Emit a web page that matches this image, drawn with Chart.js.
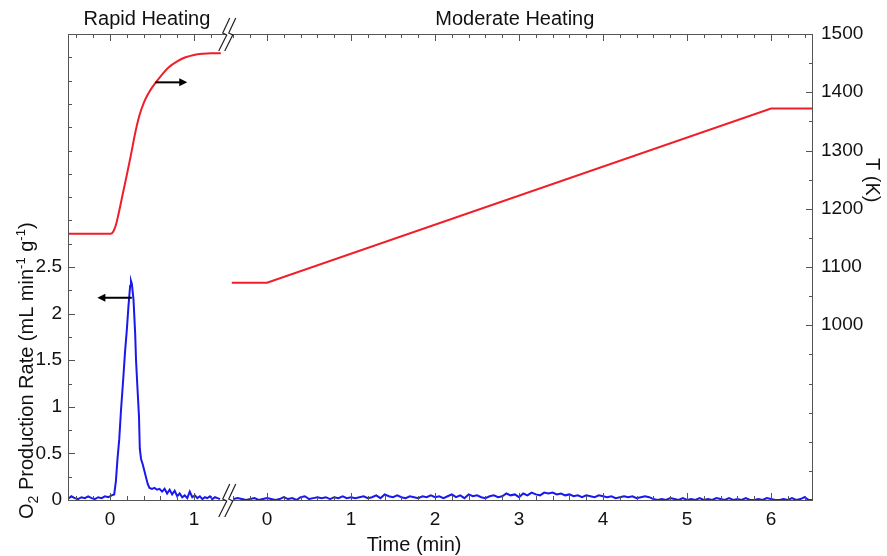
<!DOCTYPE html>
<html lang="en">
<head>
<meta charset="UTF-8">
<title>O2 Production and Temperature</title>
<script src="https://cdn.jsdelivr.net/npm/chart.js"></script>
<style>
  body { margin: 0; background: #fff; }
  canvas { display: block; }
</style>
</head>
<body>
<canvas id="chart" width="887" height="556"></canvas>
<script>
// --- Rapid heating panel (time in min) ---
const rapidO2Time = [-0.50, -0.46, -0.42, -0.38, -0.34, -0.30, -0.26, -0.22, -0.18, -0.14, -0.10, -0.06, -0.02, 0.02, 0.05,
  0.07, 0.09, 0.11, 0.13, 0.16, 0.18, 0.20, 0.22, 0.24, 0.25, 0.26, 0.28, 0.30, 0.31, 0.33, 0.345, 0.355, 0.37, 0.39, 0.41, 0.43, 0.45, 0.47, 0.50,
  0.53, 0.56, 0.59, 0.62, 0.65, 0.68, 0.71, 0.74, 0.77, 0.80, 0.83, 0.86, 0.89, 0.92, 0.95, 0.98, 1.01, 1.04, 1.07, 1.10, 1.13, 1.16, 1.19, 1.22, 1.25, 1.28, 1.31];
const rapidO2 = [0.01, 0.04, 0.02, 0.01, 0.03, 0.02, 0.04, 0.02, 0.01, 0.03, 0.02, 0.04, 0.03, 0.05, 0.06,
  0.20, 0.45, 0.65, 0.95, 1.33, 1.60, 1.82, 2.08, 2.30, 2.35, 2.32, 2.15, 1.78, 1.50, 1.15, 0.90, 0.55, 0.44, 0.38, 0.31, 0.24, 0.17, 0.13, 0.12,
  0.13, 0.11, 0.12, 0.09, 0.12, 0.07, 0.11, 0.06, 0.10, 0.04, 0.07, 0.03, 0.05, 0.02, 0.09, 0.03, 0.05, 0.02, 0.04, 0.01, 0.03, 0.02, 0.04, 0.01, 0.03, 0.02, 0.01];
const rapidTempTime = [-0.50, 0.01, 0.04, 0.07, 0.10, 0.15, 0.20, 0.25, 0.30, 0.35, 0.40, 0.45, 0.50, 0.60, 0.70, 0.80, 0.90, 1.00, 1.10, 1.20, 1.32];
const rapidTemp = [1157, 1157, 1161, 1172, 1190, 1224, 1258, 1293, 1330, 1360, 1381, 1396, 1408, 1427, 1443, 1453, 1460, 1464, 1466, 1467, 1467];

// --- Moderate heating panel ---
const modO2Time = [-0.40, -0.35, -0.30, -0.25, -0.20, -0.15, -0.10, -0.05, 0.00, 0.05,
  0.10, 0.15, 0.20, 0.25, 0.30, 0.35, 0.40, 0.45, 0.50, 0.55,
  0.60, 0.65, 0.70, 0.75, 0.80, 0.85, 0.90, 0.95, 1.00, 1.05,
  1.10, 1.15, 1.20, 1.25, 1.30, 1.35, 1.40, 1.45, 1.50, 1.55,
  1.60, 1.65, 1.70, 1.75, 1.80, 1.85, 1.90, 1.95, 2.00, 2.05,
  2.10, 2.15, 2.20, 2.25, 2.30, 2.35, 2.40, 2.45, 2.50, 2.55,
  2.60, 2.65, 2.70, 2.75, 2.80, 2.85, 2.90, 2.95, 3.00, 3.05,
  3.10, 3.15, 3.20, 3.25, 3.30, 3.35, 3.40, 3.45, 3.50, 3.55,
  3.60, 3.65, 3.70, 3.75, 3.80, 3.85, 3.90, 3.95, 4.00, 4.05,
  4.10, 4.15, 4.20, 4.25, 4.30, 4.35, 4.40, 4.45, 4.50, 4.55,
  4.60, 4.65, 4.70, 4.75, 4.80, 4.85, 4.90, 4.95, 5.00, 5.05,
  5.10, 5.15, 5.20, 5.25, 5.30, 5.35, 5.40, 5.45, 5.50, 5.55,
  5.60, 5.65, 5.70, 5.75, 5.80, 5.85, 5.90, 5.95, 6.00, 6.05,
  6.10, 6.15, 6.20, 6.25, 6.30, 6.35, 6.40, 6.45, 6.50];
const modO2 = [0.01, 0.02, 0.01, 0.00, 0.01, 0.02, 0.00, 0.01, 0.02, 0.01,
  0.00, 0.01, 0.03, 0.01, 0.02, 0.00, 0.03, 0.04, 0.01, 0.02,
  0.03, 0.02, 0.03, 0.01, 0.03, 0.02, 0.04, 0.02, 0.03, 0.02,
  0.03, 0.04, 0.02, 0.03, 0.05, 0.02, 0.06, 0.04, 0.03, 0.05,
  0.03, 0.02, 0.04, 0.03, 0.02, 0.04, 0.03, 0.05, 0.03, 0.04,
  0.02, 0.04, 0.06, 0.03, 0.05, 0.02, 0.06, 0.04, 0.05, 0.03,
  0.02, 0.04, 0.05, 0.03, 0.04, 0.07, 0.05, 0.06, 0.03, 0.07,
  0.05, 0.08, 0.06, 0.05, 0.08, 0.07, 0.08, 0.06, 0.07, 0.05,
  0.06, 0.04, 0.05, 0.03, 0.05, 0.04, 0.03, 0.05, 0.04, 0.03,
  0.04, 0.02, 0.03, 0.04, 0.03, 0.04, 0.02, 0.03, 0.04, 0.03,
  0.01, 0.00, 0.01, 0.00, 0.02, 0.01, 0.00, 0.02, 0.00, 0.01,
  0.00, 0.02, 0.00, 0.01, 0.00, 0.02, 0.01, 0.00, 0.02, 0.00,
  0.01, 0.00, 0.02, 0.00, 0.00, 0.01, 0.00, 0.02, 0.01, 0.00,
  0.00, 0.01, 0.00, 0.02, 0.00, 0.01, 0.03, 0.00, 0.00];
const modTempTime = [-0.42, 0.00, 6.00, 6.50];
const modTemp = [1073, 1073, 1372, 1372];

// tick labels
const rapidTicks = [0, 1];
const modTicks = [0, 1, 2, 3, 4, 5, 6];
const o2Ticks = [0, 0.5, 1, 1.5, 2, 2.5];
const tempTicks = [1000, 1100, 1200, 1300, 1400, 1500];

const SHIFT = 1.87;     // shared-axis position of t = 0 in the moderate panel
const BREAK_X = 1.39;   // axis break between the two panels
const BLUE = 'rgb(25,25,235)';
const RED = 'rgb(240,30,40)';
const AXIS = '#555';
const FONT = "'Liberation Sans', Arial, sans-serif";

const pts = (xs, ys, shift) => xs.map((x, i) => ({ x: x + shift, y: ys[i] }));

function minorList(from, to, step, shift) {
  const out = [];
  for (let v = Math.ceil(from / step) * step; v <= to + 1e-9; v += step) out.push(v + shift);
  return out;
}

const frame = {
  id: 'frame',
  afterDatasetsDraw(chart) {
    const { ctx, chartArea: a, scales } = chart;
    const xs = scales.x, yo = scales.y, yt = scales.yT;
    ctx.save();
    ctx.strokeStyle = AXIS;
    ctx.lineWidth = 1;
    ctx.strokeRect(a.left + 0.5, a.top + 0.5, a.right - a.left - 1, a.bottom - a.top);

    ctx.beginPath();
    // x ticks, bottom and top, pointing in
    const xMinor = minorList(-0.5, 1.3, 0.2, 0).concat(minorList(-0.4, 6.5, 0.2, SHIFT));
    xMinor.forEach(v => {
      const px = Math.round(xs.getPixelForValue(v)) + 0.5;
      const frac = Math.abs(((v < BREAK_X ? v : v - SHIFT) + 100) % 1);
      const len = (frac < 0.01 || frac > 0.99) ? 7 : 4;
      ctx.moveTo(px, a.bottom); ctx.lineTo(px, a.bottom - len);
      ctx.moveTo(px, a.top); ctx.lineTo(px, a.top + len);
    });
    // left axis ticks
    for (let v = 0.25; v < 5; v += 0.25) {
      const py = Math.round(yo.getPixelForValue(v)) + 0.5;
      const len = (v <= 2.5 && Math.abs(v * 2 - Math.round(v * 2)) < 1e-6) ? 7 : 4;
      ctx.moveTo(a.left, py); ctx.lineTo(a.left + len, py);
    }
    // right axis ticks
    for (let v = 750; v < 1500; v += 50) {
      const py = Math.round(yt.getPixelForValue(v)) + 0.5;
      const len = (v >= 1000 && v % 100 === 0) ? 7 : 4;
      ctx.moveTo(a.right, py); ctx.lineTo(a.right - len, py);
    }
    ctx.stroke();

    // axis breaks
    const bx = xs.getPixelForValue(BREAK_X);
    [a.top, a.bottom].forEach(cy => {
      const zig = dx => [[bx + dx + 6, cy - 16], [bx + dx - 1, cy - 1], [bx + dx + 3, cy + 1], [bx + dx - 5, cy + 17]];
      const l = zig(-3), r = zig(3);
      ctx.fillStyle = '#fff';
      ctx.beginPath();
      l.forEach((p, i) => i ? ctx.lineTo(p[0], p[1]) : ctx.moveTo(p[0], p[1]));
      r.slice().reverse().forEach(p => ctx.lineTo(p[0], p[1]));
      ctx.closePath();
      ctx.fill();
      ctx.strokeStyle = '#222';
      ctx.lineWidth = 1.2;
      [l, r].forEach(z => {
        ctx.beginPath();
        z.forEach((p, i) => i ? ctx.lineTo(p[0], p[1]) : ctx.moveTo(p[0], p[1]));
        ctx.stroke();
      });
    });

    // arrows pointing at each curve's axis
    const arrow = (x1, y1, x2) => {
      const dir = Math.sign(x2 - x1);
      ctx.strokeStyle = '#000';
      ctx.fillStyle = '#000';
      ctx.lineWidth = 2;
      ctx.beginPath(); ctx.moveTo(x1, y1); ctx.lineTo(x2 - dir * 6, y1); ctx.stroke();
      ctx.beginPath(); ctx.moveTo(x2, y1); ctx.lineTo(x2 - dir * 8, y1 - 4); ctx.lineTo(x2 - dir * 8, y1 + 4); ctx.closePath(); ctx.fill();
    };
    arrow(xs.getPixelForValue(0.54), yt.getPixelForValue(1417), xs.getPixelForValue(0.92));
    arrow(xs.getPixelForValue(0.26), yo.getPixelForValue(2.17), xs.getPixelForValue(-0.15));

    // panel labels
    ctx.fillStyle = '#111';
    ctx.font = `20px ${FONT}`;
    ctx.textAlign = 'center';
    ctx.textBaseline = 'alphabetic';
    ctx.fillText('Rapid Heating', xs.getPixelForValue(0.44), 25);
    ctx.fillText('Moderate Heating', xs.getPixelForValue(2.95 + SHIFT), 25);
    ctx.fillText('Time (min)', xs.getPixelForValue(1.75 + SHIFT), 551);

    // left axis title with sub/superscripts
    const parts = [['O', 0, 20], ['2', 5, 14], [' Production Rate (mL min', 0, 20], ['-1', -8, 13], [' g', 0, 20], ['-1', -8, 13], [')', 0, 20]];
    ctx.save();
    ctx.translate(33, 519);
    ctx.rotate(-Math.PI / 2);
    ctx.textAlign = 'left';
    let cx = 0;
    parts.forEach(([t, dy, sz]) => {
      ctx.font = `${sz}px ${FONT}`;
      ctx.fillText(t, cx, dy);
      cx += ctx.measureText(t).width;
    });
    ctx.restore();

    // right axis title
    ctx.save();
    ctx.translate(866, 158);
    ctx.rotate(Math.PI / 2);
    ctx.textAlign = 'left';
    ctx.font = `20px ${FONT}`;
    ctx.fillText('T (K)', 0, 0);
    ctx.restore();
    ctx.restore();
  }
};

const tickFont = { family: FONT, size: 19 };

new Chart(document.getElementById('chart'), {
  type: 'line',
  data: {
    datasets: [
      { data: pts(rapidO2Time, rapidO2, 0), borderColor: BLUE, yAxisID: 'y' },
      { data: pts(modO2Time, modO2, SHIFT), borderColor: BLUE, yAxisID: 'y' },
      { data: pts(rapidTempTime, rapidTemp, 0), borderColor: RED, yAxisID: 'yT', cubicInterpolationMode: 'monotone' },
      { data: pts(modTempTime, modTemp, SHIFT), borderColor: RED, yAxisID: 'yT' }
    ]
  },
  options: {
    responsive: false,
    animation: false,
    elements: { point: { radius: 0 }, line: { borderWidth: 2, tension: 0 } },
    layout: { padding: { top: 34 } },
    plugins: { legend: { display: false }, tooltip: { enabled: false } },
    scales: {
      x: {
        type: 'linear', min: -0.5, max: 6.5 + SHIFT,
        grid: { display: false, drawTicks: false }, border: { display: false },
        afterBuildTicks: s => { s.ticks = rapidTicks.concat(modTicks.map(v => v + SHIFT)).map(v => ({ value: v })); },
        ticks: {
          autoSkip: false, maxRotation: 0, padding: 8, color: '#111', font: tickFont,
          callback: v => v < BREAK_X ? String(v) : String(Math.round(v - SHIFT))
        },
        afterFit: s => { s.height = 56; }
      },
      y: {
        position: 'left', min: 0, max: 5,
        grid: { display: false, drawTicks: false }, border: { display: false },
        afterBuildTicks: s => { s.ticks = o2Ticks.map(v => ({ value: v })); },
        ticks: { padding: 6, color: '#111', font: tickFont, callback: v => String(v) },
        afterFit: s => { s.width = 68; }
      },
      yT: {
        position: 'right', min: 700, max: 1500,
        grid: { display: false, drawTicks: false }, border: { display: false },
        afterBuildTicks: s => { s.ticks = tempTicks.map(v => ({ value: v })); },
        ticks: { padding: 8, color: '#111', font: tickFont, callback: v => String(v) },
        afterFit: s => { s.width = 74; }
      }
    }
  },
  plugins: [frame]
});
</script>
</body>
</html>
